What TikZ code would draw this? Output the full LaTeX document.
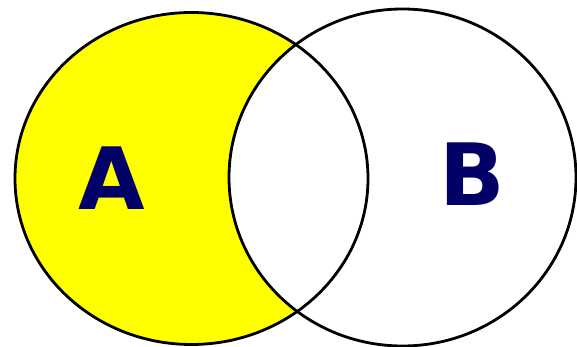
\documentclass[tikz,border=0pt]{standalone}
\usepackage{fontspec}
\setmainfont{DejaVu Sans}
\definecolor{setyellow}{HTML}{FFFF00}
\definecolor{setnavy}{HTML}{000066}
\tikzset{
  outline/.style={draw=black, line width=2.8pt},
  setlabel/.style={text=setnavy, font=\fontsize{86}{86}\selectfont\bfseries, inner sep=0pt, anchor=base}
}
\begin{document}
\begin{tikzpicture}[x=1pt,y=1pt]
  \useasboundingbox (0,0) rectangle (577,347);
  \fill[white] (0,0) rectangle (577,347);
  % set A filled
  \fill[setyellow] (191.5,168.5) ellipse [x radius=176.5, y radius=166];
  % remove intersection with B
  \begin{scope}
    \clip (191.5,168.5) ellipse [x radius=176.5, y radius=166];
    \fill[white] (402.5,169.5) ellipse [x radius=173.5, y radius=168.5];
  \end{scope}
  % outlines
  \draw[outline] (191.5,168.5) ellipse [x radius=176.5, y radius=166];
  \draw[outline] (402.5,169.5) ellipse [x radius=173.5, y radius=168.5];
  % labels
  \node[setlabel] (A) at (111.5,137) {A};
  \node[setlabel] (B) at (472,141) {B};
\end{tikzpicture}
\end{document}
